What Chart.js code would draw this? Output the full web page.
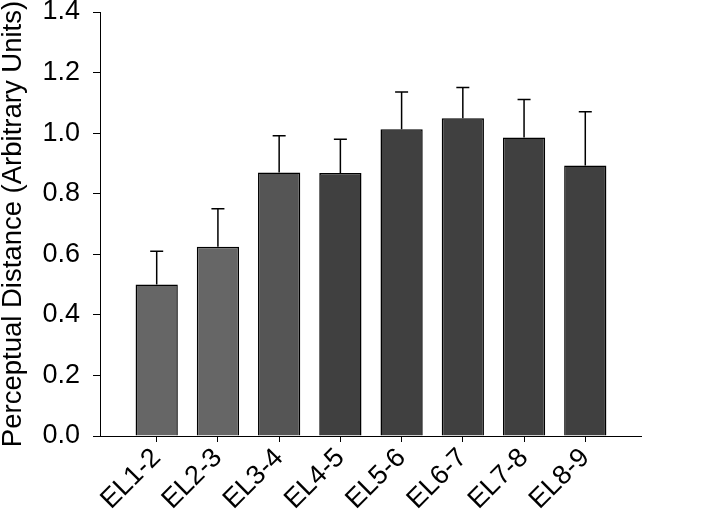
<!DOCTYPE html>
<html>
<head>
<meta charset="utf-8">
<script src="https://cdn.jsdelivr.net/npm/chart.js@4"></script>
<style>
  body { margin: 0; background: #fff; }
  canvas { display: block; }
</style>
</head>
<body>
<canvas id="barChart" width="713" height="516"></canvas>
<script>
const categories = ['EL1-2', 'EL2-3', 'EL3-4', 'EL4-5', 'EL5-6', 'EL6-7', 'EL7-8', 'EL8-9'];
const means = [0.50, 0.625, 0.87, 0.868, 1.013, 1.049, 0.986, 0.893];
const errors = [0.11, 0.125, 0.121, 0.112, 0.123, 0.102, 0.125, 0.178];
const barColors = ['#666666', '#666666', '#555555', '#404040', '#404040', '#404040', '#404040', '#404040'];
const yTicks = [0, 0.2, 0.4, 0.6, 0.8, 1.0, 1.2, 1.4];

const FONT = "'Liberation Sans', Arial, sans-serif";

// upper error bars only
const errorBars = {
  id: 'errorBars',
  afterDatasetsDraw(chart) {
    const ctx = chart.ctx;
    const y = chart.scales.y;
    const meta = chart.getDatasetMeta(0);
    ctx.save();
    ctx.strokeStyle = '#000';
    ctx.lineWidth = 1.5;
    meta.data.forEach((bar, i) => {
      const top = y.getPixelForValue(means[i] + errors[i]);
      ctx.beginPath();
      ctx.moveTo(bar.x, bar.y);
      ctx.lineTo(bar.x, top);
      ctx.moveTo(bar.x - 6.5, top);
      ctx.lineTo(bar.x + 6.5, top);
      ctx.stroke();
    });
    ctx.restore();
  }
};

new Chart(document.getElementById('barChart'), {
  type: 'bar',
  data: {
    datasets: [{
      data: categories.map((c, i) => ({ x: i, y: means[i] })),
      backgroundColor: barColors,
      borderColor: '#000',
      borderWidth: 1.5,
      barPercentage: 0.69,
      categoryPercentage: 1.0
    }]
  },
  options: {
    responsive: false,
    animation: false,
    layout: { padding: { top: 12, right: 72, left: 0, bottom: 0 } },
    plugins: {
      legend: { display: false },
      tooltip: { enabled: false }
    },
    scales: {
      x: {
        type: 'linear',
        offset: false,
        min: -0.926,
        max: 7.91,
        afterBuildTicks: scale => { scale.ticks = categories.map((c, i) => ({ value: i })); },
        afterFit: scale => { scale.height = 80; },
        grid: { offset: false, drawOnChartArea: false, drawTicks: true, tickLength: 6, color: '#000', lineWidth: 1 },
        border: { display: true, color: '#000', width: 1 },
        ticks: {
          autoSkip: false,
          minRotation: 45,
          maxRotation: 45,
          padding: 2,
          color: '#000',
          font: { family: FONT, size: 27, lineHeight: 1 },
          callback: v => categories[v]
        }
      },
      y: {
        min: 0,
        max: 1.4,
        afterBuildTicks: scale => { scale.ticks = yTicks.map(v => ({ value: v })); },
        afterFit: scale => {
          scale.width = 100;
          // tick padding would otherwise push the top of the plot down
          scale.paddingTop = 12;
          scale.paddingBottom = 12;
        },
        grid: { drawOnChartArea: false, drawTicks: true, tickLength: 7, color: '#000', lineWidth: 1 },
        border: { display: true, color: '#000', width: 1 },
        ticks: {
          padding: 13,
          color: '#000',
          font: { family: FONT, size: 27, lineHeight: 1 },
          callback: v => v.toFixed(1)
        },
        title: {
          display: true,
          text: 'Perceptual Distance (Arbitrary Units)',
          color: '#000',
          padding: 0,
          font: { family: FONT, size: 27.5, lineHeight: 1 }
        }
      }
    }
  },
  plugins: [errorBars]
});
</script>
</body>
</html>
